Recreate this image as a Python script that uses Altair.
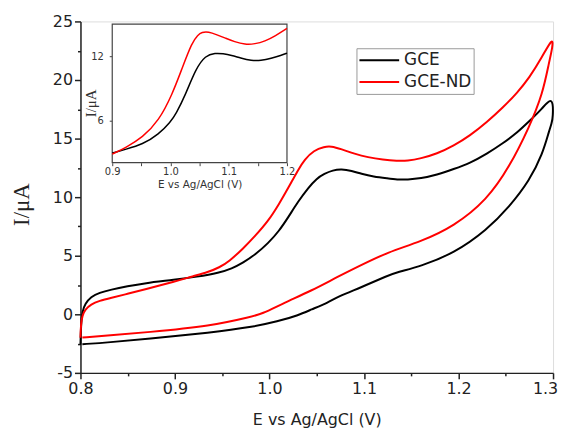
import altair as alt
import pandas as pd

# ---------------- data ----------------
SERIES = ["GCE", "GCE-ND"]
COLORS = ["#000000", "#ff0000"]

# GCE cyclic voltammogram: forward (anodic) and reverse scans
GCE_FWD_E = [0.800, 0.8005, 0.802, 0.805, 0.811, 0.820, 0.832, 0.850, 0.867, 0.900, 0.923, 0.947,
             0.960, 0.972, 0.985, 0.999, 1.010, 1.020, 1.030, 1.041, 1.050, 1.058, 1.067, 1.076,
             1.087, 1.097, 1.110, 1.125, 1.135, 1.146, 1.160, 1.177, 1.195, 1.212, 1.230, 1.247,
             1.262, 1.275, 1.288, 1.300]
GCE_FWD_I = [-2.6, -1.0, 0.3, 0.9, 1.5, 1.85, 2.1, 2.4, 2.65, 2.95, 3.2, 3.55,
             3.9, 4.4, 5.1, 6.1, 7.1, 8.3, 9.6, 10.8, 11.6, 12.0, 12.3, 12.4,
             12.25, 12.0, 11.75, 11.6, 11.5, 11.5, 11.6, 11.9, 12.4, 12.9, 13.7, 14.6,
             15.5, 16.5, 17.5, 18.7]
GCE_REV_E = [1.300, 1.2985, 1.296, 1.289, 1.275, 1.254, 1.230, 1.195, 1.160, 1.135, 1.125, 1.097,
             1.072, 1.062, 1.044, 1.030, 1.009, 0.981, 0.939, 0.869, 0.830, 0.802]
GCE_REV_I = [16.8, 16.3, 15.7, 13.7, 11.4, 9.2, 7.2, 5.2, 4.1, 3.6, 3.3, 2.3,
             1.5, 1.0, 0.4, -0.1, -0.6, -1.1, -1.55, -2.1, -2.4, -2.55]

# GCE-ND cyclic voltammogram
ND_FWD_E = [0.800, 0.8005, 0.802, 0.805, 0.811, 0.820, 0.832, 0.850, 0.867, 0.900, 0.919, 0.935,
            0.947, 0.957, 0.972, 0.985, 0.999, 1.010, 1.020, 1.030, 1.037, 1.047, 1.058, 1.065,
            1.076, 1.090, 1.104, 1.120, 1.135, 1.146, 1.160, 1.177, 1.195, 1.212, 1.230, 1.247,
            1.262, 1.275, 1.288, 1.300]
ND_FWD_I = [-2.0, -0.8, -0.1, 0.4, 0.85, 1.15, 1.4, 1.75, 2.1, 2.8, 3.25, 3.6,
            4.0, 4.5, 5.6, 6.7, 8.0, 9.4, 10.8, 12.3, 13.2, 14.0, 14.3, 14.35,
            14.1, 13.7, 13.4, 13.2, 13.1, 13.1, 13.3, 13.7, 14.4, 15.25, 16.4, 17.65,
            18.9, 20.2, 21.9, 23.7]
ND_REV_E = [1.2995, 1.296, 1.289, 1.275, 1.254, 1.230, 1.195, 1.160, 1.125, 1.097, 1.072, 1.044,
            1.016, 0.991, 0.981, 0.939, 0.869, 0.830, 0.802]
ND_REV_I = [22.8, 21.6, 18.8, 16.0, 12.6, 9.75, 7.5, 6.2, 5.3, 4.2, 3.2, 2.0,
            1.0, 0.0, -0.2, -1.0, -1.55, -1.8, -1.98]

# Inset (forward scans, 0.9 - 1.2 V)
INSET_GCE_E = [0.900, 0.923, 0.952, 0.980, 1.000, 1.009, 1.026, 1.043, 1.060, 1.077, 1.090, 1.105,
               1.120, 1.139, 1.155, 1.173, 1.190, 1.200]
INSET_GCE_I = [3.0, 3.35, 3.8, 4.75, 5.9, 6.6, 8.45, 10.8, 12.1, 12.3, 12.25, 12.1,
               11.85, 11.6, 11.6, 11.8, 12.1, 12.3]
INSET_ND_E = [0.900, 0.923, 0.952, 0.980, 1.003, 1.020, 1.037, 1.047, 1.054, 1.065, 1.080, 1.094,
              1.110, 1.128, 1.145, 1.162, 1.180, 1.200]
INSET_ND_I = [2.9, 3.5, 4.45, 6.0, 8.45, 10.9, 13.3, 14.0, 14.25, 14.3, 14.0, 13.7,
              13.35, 13.1, 13.15, 13.4, 13.9, 14.6]

# axes
MAIN_X_DOMAIN = [0.8, 1.3]
MAIN_Y_DOMAIN = [-5, 25]
X_TICKS = [0.8, 0.9, 1.0, 1.1, 1.2, 1.3]
X_MINOR = [0.85, 0.95, 1.05, 1.15, 1.25]
Y_TICKS = [-5, 0, 5, 10, 15, 20, 25]
Y_MINOR = [-2.5, 2.5, 7.5, 12.5, 17.5, 22.5]
INSET_X_DOMAIN = [0.9, 1.2]
INSET_Y_DOMAIN = [2.1, 15.0]
INSET_X_TICKS = [0.9, 0.95, 1.0, 1.05, 1.1, 1.15, 1.2]
INSET_Y_TICKS = [6, 12]

# ---------------- layout ----------------
W, H = 476, 354
INSET_X_RANGE = [32, 208]        # plot-relative pixels
INSET_Y_RANGE = [142.3, 2.7]
INK = "#222222"
SANS = "DejaVu Sans"
SERIF = "Liberation Serif"


def loop(name, fe, fi, re_, ri):
    rows = []
    k = 0
    for e, i in zip(fe + re_, fi + ri):
        rows.append({"series": name, "E": e, "I": i, "idx": k})
        k += 1
    return rows


main_df = pd.DataFrame(
    loop(SERIES[0], GCE_FWD_E, GCE_FWD_I, GCE_REV_E, GCE_REV_I)
    + loop(SERIES[1], ND_FWD_E, ND_FWD_I, ND_REV_E, ND_REV_I)
)
inset_df = pd.DataFrame(
    loop(SERIES[0], INSET_GCE_E, INSET_GCE_I, [], [])
    + loop(SERIES[1], INSET_ND_E, INSET_ND_I, [], [])
)
frame_df = pd.DataFrame({"x0": [INSET_X_DOMAIN[0]], "x1": [INSET_X_DOMAIN[1]],
                         "y0": [INSET_Y_DOMAIN[0]], "y1": [INSET_Y_DOMAIN[1]]})

xs_main = alt.Scale(domain=MAIN_X_DOMAIN, nice=False, zero=False)
ys_main = alt.Scale(domain=MAIN_Y_DOMAIN, nice=False, zero=False)
xs_in = alt.Scale(domain=INSET_X_DOMAIN, range=INSET_X_RANGE, nice=False, zero=False)
ys_in = alt.Scale(domain=INSET_Y_DOMAIN, range=INSET_Y_RANGE, nice=False, zero=False)
color_scale = alt.Scale(domain=SERIES, range=COLORS)

main_x_axis = alt.Axis(values=X_TICKS, format=".1f", orient="bottom", title="E vs Ag/AgCl (V)",
                       tickSize=6, tickWidth=1.5, tickColor=INK, domainColor=INK, domainWidth=1.5,
                       labelPadding=2, labelFont=SANS, labelFontSize=16, labelColor=INK,
                       labelOffset=alt.condition("datum.value >= 1.29", alt.value(-8), alt.value(0)),
                       labelFlush=False, labelOverlap=False, grid=False,
                       titleFont=SANS, titleFontSize=16, titleFontWeight="normal",
                       titleColor=INK, titlePadding=15)
main_y_axis = alt.Axis(values=Y_TICKS, labelExpr="'' + datum.value", orient="left", title="I/μA",
                       tickSize=6, tickWidth=1.5, tickColor=INK, domainColor=INK, domainWidth=1.5,
                       labelPadding=2, labelFont=SANS, labelFontSize=16, labelColor=INK,
                       labelOverlap=False, grid=False,
                       titleFont=SERIF, titleFontSize=23, titleFontWeight="normal", titleColor=INK,
                       titleX=-52, titleY=184, titleAngle=270, titleAlign="center",
                       titleBaseline="alphabetic")
minor_x_axis = alt.Axis(values=X_MINOR, orient="bottom", labels=False, domain=False, grid=False,
                        tickSize=3, tickWidth=1.5, tickColor=INK, title=None)
minor_y_axis = alt.Axis(values=Y_MINOR, orient="left", labels=False, domain=False, grid=False,
                        tickSize=3, tickWidth=1.5, tickColor=INK, title=None)

inset_x_axis = alt.Axis(values=INSET_X_TICKS, orient="bottom", offset=INSET_Y_RANGE[0] - H,
                        labelExpr="abs(datum.value*10 - round(datum.value*10)) < 0.01 ? format(datum.value, '.1f') : ''",
                        domain=False, grid=False, tickSize=3, tickWidth=1, tickColor="#444",
                        labelPadding=1, labelFont=SANS, labelFontSize=10, labelColor="#333",
                        labelFlush=False, labelOverlap=False,
                        title="E vs Ag/AgCl (V)", titleFont=SANS, titleFontSize=10.5,
                        titleFontWeight="normal", titleColor="#333", titlePadding=3)
inset_y_axis = alt.Axis(values=INSET_Y_TICKS, orient="left", offset=-INSET_X_RANGE[0],
                        domain=False, grid=False, tickSize=3, tickWidth=1, tickColor="#444",
                        labelPadding=6, labelFont=SANS, labelFontSize=10, labelColor="#333",
                        labelOverlap=False,
                        title="I/μA", titleFont=SERIF, titleFontSize=15, titleFontWeight="normal",
                        titleColor="#333", titleX=-17, titleY=82, titleAngle=270,
                        titleAlign="center", titleBaseline="alphabetic")

legend = alt.Legend(orient="none", legendX=278, legendY=27, title=None, symbolType="stroke",
                    symbolSize=1600, symbolStrokeWidth=2, labelFont=SANS, labelFontSize=17,
                    labelColor=INK, labelOffset=4, clipHeight=20, rowPadding=2, padding=2,
                    strokeColor="#999999", fillColor="white", direction="vertical")

main_lines = alt.Chart(main_df).mark_line(strokeWidth=2, interpolate="basis").encode(
    x=alt.X("E:Q", scale=xs_main, axis=main_x_axis),
    y=alt.Y("I:Q", scale=ys_main, axis=main_y_axis),
    color=alt.Color("series:N", scale=color_scale, legend=legend),
    order=alt.Order("idx:Q"),
)

minor_ticks = alt.Chart(main_df).mark_point(opacity=0).encode(
    x=alt.X("E:Q", scale=xs_main, axis=minor_x_axis),
    y=alt.Y("I:Q", scale=ys_main, axis=minor_y_axis),
)

inset_frame = alt.Chart(frame_df).mark_rect(fill="white", stroke="#444444", strokeWidth=1.2).encode(
    x=alt.X("x0:Q", scale=xs_in, axis=None),
    x2="x1:Q",
    y=alt.Y("y0:Q", scale=ys_in, axis=None),
    y2="y1:Q",
)

inset_lines = alt.Chart(inset_df).mark_line(strokeWidth=1.5, interpolate="basis").encode(
    x=alt.X("E:Q", scale=xs_in, axis=inset_x_axis),
    y=alt.Y("I:Q", scale=ys_in, axis=inset_y_axis),
    color=alt.Color("series:N", scale=color_scale, legend=None),
    order=alt.Order("idx:Q"),
)

chart = alt.layer(main_lines, minor_ticks, inset_frame, inset_lines).resolve_scale(
    x="independent", y="independent"
).resolve_axis(
    x="independent", y="independent"
).properties(
    width=W, height=H,
    padding={"left": 73, "top": 12, "right": 5, "bottom": 55},
    autosize=alt.AutoSizeParams(type="none"),
).configure_view(
    stroke=INK, strokeWidth=1.5
).configure(background="white")

chart.save("out.html", embed_options={"renderer": "svg", "actions": False})
